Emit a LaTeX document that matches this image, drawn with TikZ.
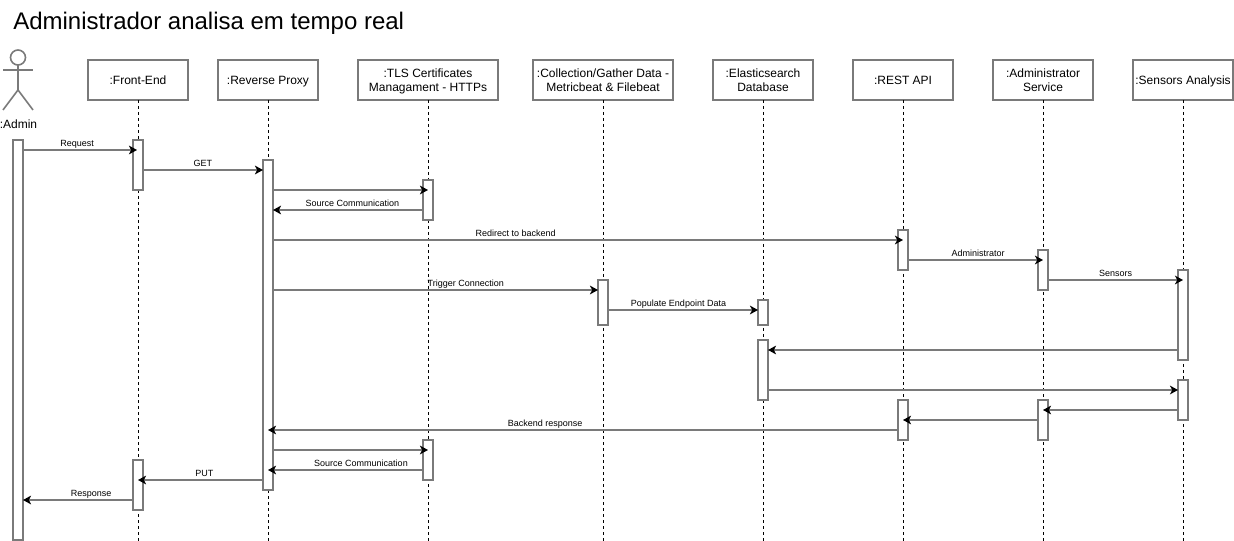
\documentclass[tikz,border=0pt]{standalone}
\usepackage{fontspec}
\setmainfont{Liberation Sans}
\usepackage{tikz}
\usetikzlibrary{arrows.meta,positioning,calc}
\colorlet{edge}{black!52}
\newcommand{\headstrut}{\rule[-2pt]{0pt}{10.25pt}}
\newcommand{\headtop}{\rule{0pt}{8.25pt}}
\tikzstyle{head} = [draw=edge, rectangle, line width=1.2pt, minimum height=30pt, inner sep=0pt, outer sep=0pt, align=center, font=\fontsize{9}{10.5}\selectfont, execute at begin node=\headstrut, execute at end node=\headstrut]
\tikzstyle{bar} = [draw=edge, rectangle, line width=1.2pt, fill=white, minimum width=7.5pt, inner sep=0pt, outer sep=0pt, anchor=north]
\tikzstyle{life} = [draw, line width=0.75pt, dash pattern=on 2.25pt off 2.25pt, xshift=0.375pt]
\tikzstyle{msg} = [draw=edge, line width=1.2pt, -{Stealth[length=6pt, width=6.5pt, inset=1.6pt, black]}]
\tikzstyle{lbl} = [anchor=base, inner sep=0pt, yshift=2.6pt, font=\fontsize{6.75}{8}\selectfont]
\tikzstyle{stick} = [draw=edge, line width=1.2pt]

\begin{document}
\begin{tikzpicture}[x=0.75pt, y=-0.75pt]
    \useasboundingbox (0,0) rectangle (1234,541);
    \node at (13,23) [anchor=west, inner sep=0pt, font=\fontsize{18}{20}\selectfont, name=title] {Administrador analisa em tempo real};
    \coordinate (bottom) at (0,541);

    % actor
    \node at (18,57.5) [stick, circle, minimum size=11.25pt, inner sep=0pt, outer sep=0pt] (admhead) {};
    \coordinate (hip) at ($(admhead.south)+(0,25)$);
    \draw [stick] (admhead.south) -- (hip);
    \draw [stick] ($(admhead.south)+(-15,5)$) -- ($(admhead.south)+(15,5)$);
    \draw [stick] ($(hip)+(-15,20)$) -- (hip) -- ($(hip)+(15,20)$);
    \node at (18.5,124.5) [inner sep=0pt, font=\fontsize{9}{10.5}\selectfont] (admlabel) {:Admin};

    % lifeline heads
    \node at (138,80) [head, minimum width=75pt] (fe) {:Front-End};
    \node at (268,80) [head, minimum width=75pt] (rp) {:Reverse Proxy};
    \node at (428,80) [head, minimum width=105pt] (tls) {\headtop:TLS Certificates\\Managament - HTTPs};
    \node at (603,80) [head, minimum width=105pt] (coll) {\headtop:Collection/Gather Data -\\Metricbeat \& Filebeat};
    \node at (763,80) [head, minimum width=75pt] (es) {\headtop:Elasticsearch\\Database};
    \node at (903,80) [head, minimum width=75pt] (api) {:REST API};
    \node at (1043,80) [head, minimum width=75pt] (svc) {\headtop:Administrator\\Service};
    \node at (1183,80) [head, minimum width=75pt] (sens) {:Sensors Analysis};
    \foreach \who in {fe,rp,tls,coll,es,api,svc,sens}
        \draw [life] (\who.south) -- (\who.south |- bottom);

    % activation bars
    \node at (18,140) [bar, minimum height=300pt] (admbar) {};
    \node at (138,140) [bar, minimum height=37.5pt] (feA) {};
    \node at (138,460) [bar, minimum height=37.5pt] (feB) {};
    \node at (268,160) [bar, minimum height=247.5pt] (rpbar) {};
    \node at (428,180) [bar, minimum height=30pt] (tlsA) {};
    \node at (428,440) [bar, minimum height=30pt] (tlsB) {};
    \node at (603,280) [bar, minimum height=33.75pt] (collbar) {};
    \node at (763,300) [bar, minimum height=18.75pt] (esA) {};
    \node at (763,340) [bar, minimum height=45pt] (esB) {};
    \node at (903,230) [bar, minimum height=30pt] (apiA) {};
    \node at (903,400) [bar, minimum height=30pt] (apiB) {};
    \node at (1043,250) [bar, minimum height=30pt] (svcA) {};
    \node at (1043,400) [bar, minimum height=30pt] (svcB) {};
    \node at (1183,270) [bar, minimum height=67.5pt] (sensA) {};
    \node at (1183,380) [bar, minimum height=30pt] (sensB) {};

    % messages
    \draw [msg] ($(admbar.north east)+(0,10)$) -- node [lbl, pos=0.474] {Request} ($(feA.north)+(-1,10)$);
    \draw [msg] ($(feA.north east)+(0,30)$) -- node [lbl, pos=0.498] {GET} ($(rpbar.north west)+(0,10)$);
    \draw [msg] ($(rpbar.north east)+(0,30)$) -- ($(tlsA.north)+(0,10)$);
    \draw [msg] ($(tlsA.north west)+(0,30)$) -- node [lbl, pos=0.47] {Source Communication} ($(rpbar.north east)+(0,50)$);
    \draw [msg] ($(rpbar.north east)+(0,80)$) -- node [lbl, pos=0.385] {Redirect to backend} ($(apiA.north)+(0,10)$);
    \draw [msg] ($(apiA.north east)+(0,30)$) -- node [lbl, pos=0.52] {Administrator} ($(svcA.north)+(0,10)$);
    \draw [msg] ($(svcA.north east)+(0,30)$) -- node [lbl, pos=0.5] {Sensors} ($(sensA.north)+(0,10)$);
    \draw [msg] ($(rpbar.north east)+(0,130)$) -- node [lbl, pos=0.593] {Trigger Connection} ($(collbar.north west)+(0,10)$);
    \draw [msg] ($(collbar.north east)+(0,30)$) -- node [lbl, pos=0.47] {Populate Endpoint Data} ($(esA.north west)+(0,10)$);
    \draw [msg] ($(sensA.north west)+(0,80)$) -- ($(esB.north east)+(0,10)$);
    \draw [msg] ($(esB.north east)+(0,50)$) -- ($(sensB.north west)+(0,10)$);
    \draw [msg] ($(sensB.north west)+(0,30)$) -- ($(svcB.north)+(0,10)$);
    \draw [msg] ($(svcB.north west)+(0,20)$) -- ($(apiB.north)+(0,20)$);
    \draw [msg] ($(apiB.north west)+(0,30)$) -- node [lbl, pos=0.56] {Backend response} ($(rpbar.north)+(0,270)$);
    \draw [msg] ($(rpbar.north east)+(0,290)$) -- ($(tlsB.north)+(0,10)$);
    \draw [msg] ($(tlsB.north west)+(0,30)$) -- node [lbl, pos=0.40] {Source Communication} ($(rpbar.north)+(0,310)$);
    \draw [msg] ($(rpbar.north west)+(0,320)$) -- node [lbl, pos=0.47] {PUT} ($(feB.north)+(0,20)$);
    \draw [msg] ($(feB.north west)+(0,40)$) -- node [lbl, pos=0.38] {Response} ($(admbar.north east)+(0,360)$);
\end{tikzpicture}
\end{document}
